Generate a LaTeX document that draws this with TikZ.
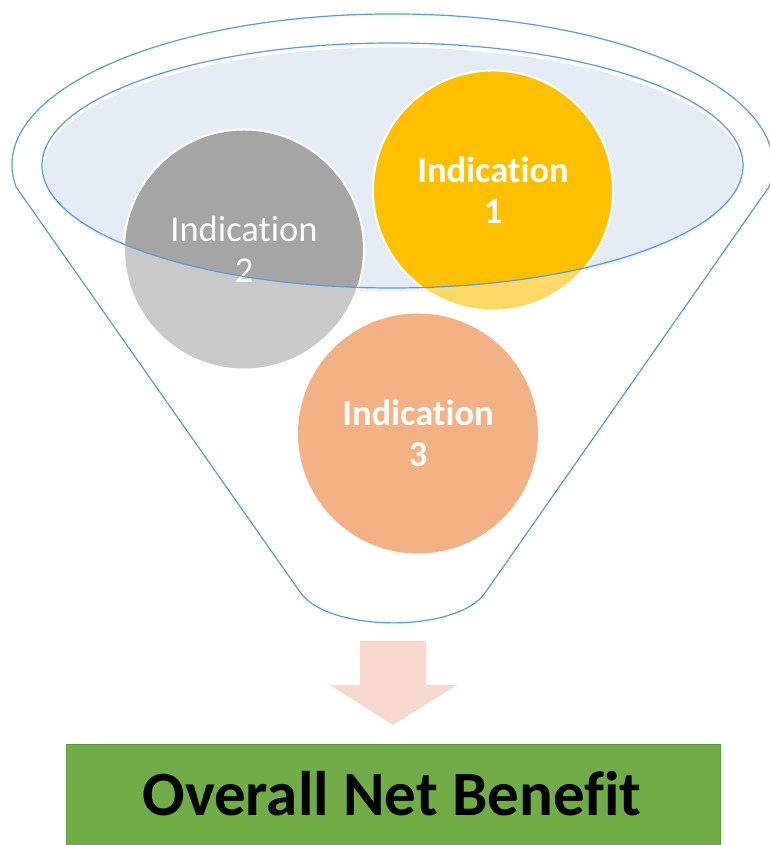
\documentclass[tikz,border=0pt]{standalone}
\usepackage{fontspec}
\setmainfont{Carlito}[Ligatures=NoCommon]

\definecolor{rimblue}{HTML}{5B9BD5}
\definecolor{mouthfill}{RGB}{230,236,246}
\definecolor{indone}{HTML}{FFC000}
\definecolor{indtwo}{HTML}{A5A5A5}
\definecolor{indthree}{HTML}{ED7D31}
\definecolor{arrowpink}{RGB}{248,217,206}
\definecolor{benefitgreen}{HTML}{70AD47}
\definecolor{benefitedge}{RGB}{96,150,66}

\tikzset{
  indication/.style={circle,draw=white,line width=2pt,minimum size=240pt,inner sep=0pt,
    text=white,align=center,font=\fontsize{36.5}{41}\selectfont},
  boldind/.style={indication,font=\fontsize{36.5}{41}\selectfont\bfseries},
  funnelline/.style={draw=rimblue,line width=1.2pt},
}

\begin{document}
\begin{tikzpicture}[x=1pt,y=1pt]
  \useasboundingbox (0,0) rectangle (769,845);

  % Funnel outline: rim arc, the two sides, rounded spout
  \def\funnel{(16.1,658) arc[start angle=188.4,end angle=-8.4,x radius=380.5,y radius=151]
    -- (485,252) .. controls (457,212) and (328,212) .. (300,253) -- cycle}
  \def\mouth{(392.5,679.5) ellipse[x radius=350.5,y radius=122.5]}

  % Opening of the funnel
  \fill[mouthfill] (392.5,675.5) ellipse[x radius=349,y radius=122];

  % Indication circles
  \node[indication,fill=indtwo] (ind2) at (244,595.5) {Indication\\2};
  \node[boldind,fill=indone] (ind1) at (493,654.5) {Indication\\1};
  \node[boldind,fill=indthree,draw=none] (ind3) at (418,411.5) {Indication\\3};

  % Glass body washes out what lies below the opening
  \fill[white,fill opacity=0.4,even odd rule] \funnel \mouth;

  % Outlines
  \draw[funnelline] \funnel;
  \draw[funnelline] \mouth;

  % Block arrow down to the result
  \fill[arrowpink] (360,204) -- (426,204) -- (426,160) -- (457,160)
    -- (393,120) -- (330,160) -- (360,160) -- cycle;

  % Result box
  \node[draw=benefitedge,fill=benefitgreen,line width=1pt,minimum width=654,
    minimum height=120,anchor=north] (benefitbox) at (393,101) {};
  \node[anchor=base,font=\fontsize{63}{70}\selectfont\bfseries] (benefit) at (392,29)
    {Overall Net Benefit};
\end{tikzpicture}
\end{document}
